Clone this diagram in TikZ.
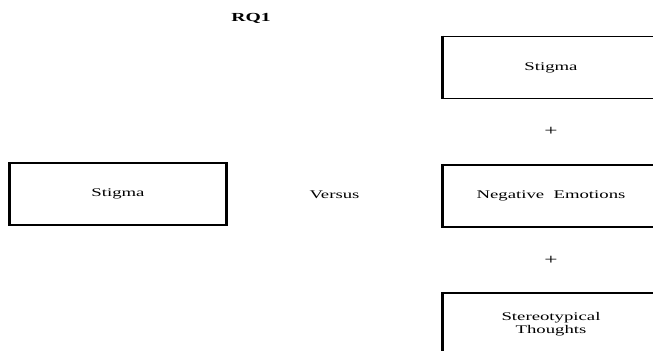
\documentclass[tikz,border=0pt]{standalone}
\usepackage{fontspec}
\setmainfont[FakeStretch=1.6]{Liberation Serif}
\usetikzlibrary{positioning}

\begin{document}
\begin{tikzpicture}[
    node distance=1.93cm,
    box/.style={rectangle, draw=black, line width=1.7pt, minimum width=6.45cm, minimum height=1.86cm, align=center, font=\fontsize{10}{11.5}\selectfont},
    side/.style={line width=3.4pt},
    word/.style={font=\fontsize{10}{11.5}\selectfont},
    plus/.style={font=\fontsize{12.5}{14}\selectfont}
]
\clip (0,0) rectangle (19.59,10.5);

% Heading
\node[font=\bfseries\fontsize{10.5}{12}\selectfont] (rq) at (7.53, 9.95) {RQ1};

% Single factor on the left
\node[box] (single) at (3.54, 4.68) {Stigma};

% Combined factors on the right
\node[box] (stigma) at (16.53, 8.475) {Stigma};
\node[box, below=of stigma] (emotions) {Negative\ \ Emotions};
\node[box, below=of emotions] (thoughts) {Stereotypical\\Thoughts};

% Plus signs and the comparison word
\path (stigma) -- node[plus] (plusa) {+} (emotions);
\path (emotions) -- node[plus] (plusb) {+} (thoughts);
\path (single) -- node[word] (versus) {Versus} (emotions);

% Heavier vertical sides
\foreach \b in {single, stigma, emotions, thoughts}
    \draw[side] (\b.north west) -- (\b.south west) (\b.north east) -- (\b.south east);

\end{tikzpicture}
\end{document}
